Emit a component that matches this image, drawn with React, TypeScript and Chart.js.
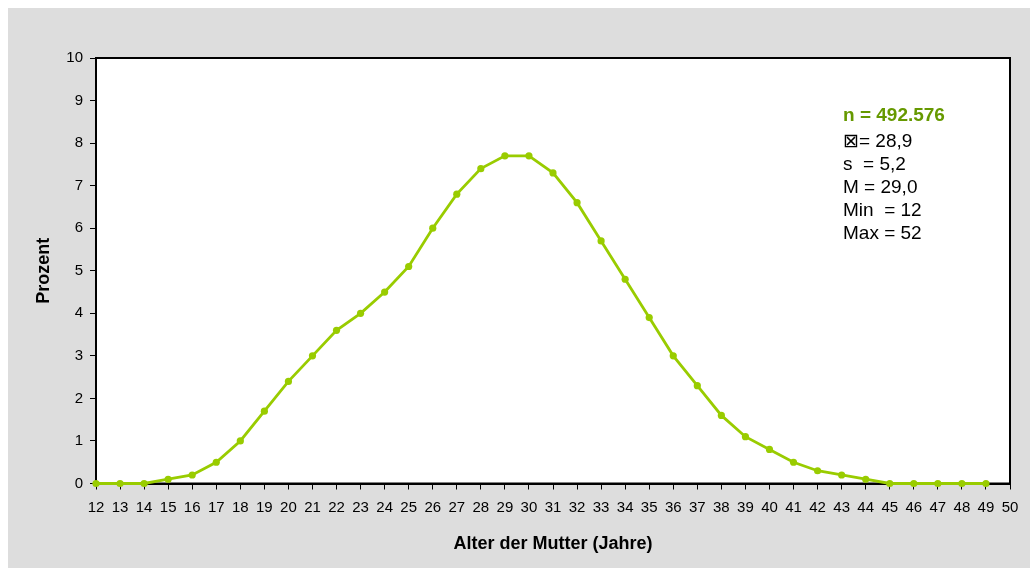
import { useEffect, useRef } from "react";
import { Chart, registerables } from "chart.js";

Chart.register(...registerables);

const ages = [12, 13, 14, 15, 16, 17, 18, 19, 20, 21, 22, 23, 24, 25, 26, 27, 28, 29, 30, 31, 32, 33, 34, 35, 36, 37, 38, 39, 40, 41, 42, 43, 44, 45, 46, 47, 48, 49];
const percent = [0, 0, 0, 0.1, 0.2, 0.5, 1.0, 1.7, 2.4, 3.0, 3.6, 4.0, 4.5, 5.1, 6.0, 6.8, 7.4, 7.7, 7.7, 7.3, 6.6, 5.7, 4.8, 3.9, 3.0, 2.3, 1.6, 1.1, 0.8, 0.5, 0.3, 0.2, 0.1, 0, 0, 0, 0, 0];
const xMin = 12;
const xMax = 50;
const yMin = 0;
const yMax = 10;
const xTitle = "Alter der Mutter (Jahre)";
const yTitle = "Prozent";
const statsTitle = "n = 492.576";
const statsLines = ["\u22A0= 28,9", "s  = 5,2", "M = 29,0", "Min  = 12", "Max = 52"];

const FONT = "'Liberation Sans', Arial, Helvetica, sans-serif";

export default function App() {
  const ref = useRef<HTMLCanvasElement>(null);

  useEffect(() => {
    if (!ref.current) return;
    const framePlugin = {
      id: "frame",
      beforeDraw(chart: any) {
        const { ctx, chartArea } = chart;
        const { left, top, right, bottom } = chartArea;
        ctx.save();
        ctx.fillStyle = "#ffffff";
        ctx.fillRect(left, top, right - left, bottom - top);
        ctx.restore();
      },
      beforeDatasetsDraw(chart: any) {
        const { ctx, chartArea } = chart;
        const { left, top, right, bottom } = chartArea;
        ctx.save();
        ctx.strokeStyle = "#000000";
        ctx.lineWidth = 2;
        ctx.strokeRect(left, top, right - left, bottom - top);
        ctx.restore();
      },
    };

    const chart = new Chart(ref.current, {
      type: "line",
      data: {
        datasets: [
          {
            data: ages.map((a, i) => ({ x: a, y: percent[i] })),
            borderColor: "#99CC00",
            backgroundColor: "#99CC00",
            borderWidth: 2.8,
            pointRadius: 3.6,
            pointHoverRadius: 3.6,
            pointBorderWidth: 0,
            tension: 0,
            clip: false as any,
          },
        ],
      },
      options: {
        animation: false,
        responsive: false,
        events: [],
        layout: { padding: { left: 0, right: 20, top: 50, bottom: 0 } },
        plugins: {
          legend: { display: false },
          tooltip: { enabled: false },
        },
        scales: {
          x: {
            type: "linear",
            min: xMin,
            max: xMax,
            afterFit: (s: any) => {
              s.height = 84.5;
            },
            ticks: {
              stepSize: 1,
              autoSkip: false,
              maxRotation: 0,
              color: "#000000",
              font: { family: FONT, size: 15 },
              padding: 9.5,
            },
            grid: {
              drawOnChartArea: false,
              drawTicks: true,
              tickLength: 6,
              color: "#000000",
              lineWidth: 1,
            },
            border: { display: true, color: "#000000", width: 2 },
            title: {
              display: true,
              text: xTitle,
              color: "#000000",
              font: { family: FONT, size: 18, weight: "bold" },
              padding: { top: 0, bottom: 13.2 },
            },
          },
          y: {
            type: "linear",
            min: yMin,
            max: yMax,
            afterFit: (s: any) => {
              s.width = 88;
            },
            ticks: {
              stepSize: 1,
              color: "#000000",
              font: { family: FONT, size: 15 },
              padding: 7,
            },
            grid: {
              drawOnChartArea: false,
              drawTicks: true,
              tickLength: 6,
              color: "#000000",
              lineWidth: 1,
            },
            border: { display: true, color: "#000000", width: 2 },
            title: {
              display: true,
              text: yTitle,
              color: "#000000",
              font: { family: FONT, size: 18, weight: "bold" },
              padding: { top: 25.2, bottom: 0 },
            },
          },
        },
      },
      plugins: [framePlugin],
    } as any);

    return () => chart.destroy();
  }, []);

  return (
    <div
      style={{
        position: "absolute",
        left: 8,
        top: 8,
        width: 1022,
        height: 560,
        background: "#DDDDDD",
        overflow: "hidden",
      }}
    >
      <canvas ref={ref} width={1022} height={560} style={{ display: "block" }} />
      <div
        style={{
          position: "absolute",
          left: 835,
          top: 95,
          fontFamily: FONT,
          fontSize: 19,
          lineHeight: "23px",
          color: "#000000",
          whiteSpace: "pre",
        }}
      >
        <div style={{ color: "#669900", fontWeight: "bold", marginBottom: 2.5 }}>{statsTitle}</div>
        {statsLines.map((t) => (
          <div key={t}>{t}</div>
        ))}
      </div>
    </div>
  );
}
